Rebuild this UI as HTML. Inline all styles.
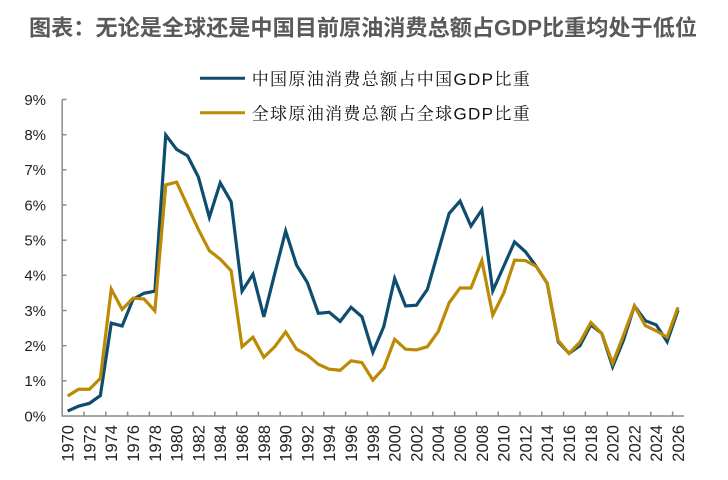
<!DOCTYPE html>
<html><head><meta charset="utf-8"><style>
html,body{margin:0;padding:0;background:#fff;}
svg{display:block;}
</style></head><body>
<svg width="728" height="480" viewBox="0 0 728 480" xmlns="http://www.w3.org/2000/svg">
<rect width="728" height="480" fill="#fff"/>
<text x="363" y="35.5" text-anchor="middle" font-family="Liberation Sans, 'Noto Sans CJK SC', sans-serif" font-size="22" font-weight="bold" fill="#595959" textLength="668" lengthAdjust="spacingAndGlyphs">图表：无论是全球还是中国目前原油消费总额占GDP比重均处于低位</text>

<!-- legend -->
<line x1="200" y1="78.2" x2="245" y2="78.2" stroke="#0E4D6F" stroke-width="3"/>
<line x1="200" y1="112.8" x2="245" y2="112.8" stroke="#BC8A05" stroke-width="3"/>
<text x="251.7" y="85.2" font-family="Liberation Sans, 'Noto Serif CJK SC', serif" font-size="17" fill="#111" textLength="278" lengthAdjust="spacing">中国原油消费总额占中国GDP比重</text>
<text x="251.7" y="119.7" font-family="Liberation Sans, 'Noto Serif CJK SC', serif" font-size="17" fill="#111" textLength="278" lengthAdjust="spacing">全球原油消费总额占全球GDP比重</text>

<!-- axes -->
<g stroke="#8a8a8a" stroke-width="1.5" fill="none">
<line x1="62.2" y1="99.5" x2="62.2" y2="416.5"/>
<line x1="61.5" y1="416" x2="684" y2="416"/>
<line x1="62.2" y1="99.5" x2="66.5" y2="99.5"/>
<line x1="62.2" y1="134.7" x2="66.5" y2="134.7"/>
<line x1="62.2" y1="169.8" x2="66.5" y2="169.8"/>
<line x1="62.2" y1="205.0" x2="66.5" y2="205.0"/>
<line x1="62.2" y1="240.2" x2="66.5" y2="240.2"/>
<line x1="62.2" y1="275.3" x2="66.5" y2="275.3"/>
<line x1="62.2" y1="310.5" x2="66.5" y2="310.5"/>
<line x1="62.2" y1="345.7" x2="66.5" y2="345.7"/>
<line x1="62.2" y1="380.8" x2="66.5" y2="380.8"/>
</g>
<g stroke="#8a8a8a" stroke-width="1.5">
<line x1="84.0" y1="411.5" x2="84.0" y2="416"/>
<line x1="105.8" y1="411.5" x2="105.8" y2="416"/>
<line x1="127.6" y1="411.5" x2="127.6" y2="416"/>
<line x1="149.4" y1="411.5" x2="149.4" y2="416"/>
<line x1="171.2" y1="411.5" x2="171.2" y2="416"/>
<line x1="193.0" y1="411.5" x2="193.0" y2="416"/>
<line x1="214.8" y1="411.5" x2="214.8" y2="416"/>
<line x1="236.6" y1="411.5" x2="236.6" y2="416"/>
<line x1="258.4" y1="411.5" x2="258.4" y2="416"/>
<line x1="280.2" y1="411.5" x2="280.2" y2="416"/>
<line x1="302.0" y1="411.5" x2="302.0" y2="416"/>
<line x1="323.8" y1="411.5" x2="323.8" y2="416"/>
<line x1="345.6" y1="411.5" x2="345.6" y2="416"/>
<line x1="367.4" y1="411.5" x2="367.4" y2="416"/>
<line x1="389.2" y1="411.5" x2="389.2" y2="416"/>
<line x1="411.0" y1="411.5" x2="411.0" y2="416"/>
<line x1="432.8" y1="411.5" x2="432.8" y2="416"/>
<line x1="454.6" y1="411.5" x2="454.6" y2="416"/>
<line x1="476.4" y1="411.5" x2="476.4" y2="416"/>
<line x1="498.2" y1="411.5" x2="498.2" y2="416"/>
<line x1="520.0" y1="411.5" x2="520.0" y2="416"/>
<line x1="541.8" y1="411.5" x2="541.8" y2="416"/>
<line x1="563.6" y1="411.5" x2="563.6" y2="416"/>
<line x1="585.4" y1="411.5" x2="585.4" y2="416"/>
<line x1="607.2" y1="411.5" x2="607.2" y2="416"/>
<line x1="629.0" y1="411.5" x2="629.0" y2="416"/>
<line x1="650.8" y1="411.5" x2="650.8" y2="416"/>
<line x1="672.6" y1="411.5" x2="672.6" y2="416"/>
</g>

<!-- y labels -->
<g font-family="Liberation Sans, sans-serif" font-size="15" fill="#222" text-anchor="end">
<text x="46" y="104.8">9%</text>
<text x="46" y="140.0">8%</text>
<text x="46" y="175.1">7%</text>
<text x="46" y="210.3">6%</text>
<text x="46" y="245.5">5%</text>
<text x="46" y="280.6">4%</text>
<text x="46" y="315.8">3%</text>
<text x="46" y="351.0">2%</text>
<text x="46" y="386.1">1%</text>
<text x="46" y="421.3">0%</text>
</g>

<!-- x labels -->
<g font-family="Liberation Sans, sans-serif" font-size="16.5" fill="#222" text-anchor="end">
<text transform="translate(73.6,425) rotate(-90)">1970</text>
<text transform="translate(95.4,425) rotate(-90)">1972</text>
<text transform="translate(117.2,425) rotate(-90)">1974</text>
<text transform="translate(139.0,425) rotate(-90)">1976</text>
<text transform="translate(160.8,425) rotate(-90)">1978</text>
<text transform="translate(182.6,425) rotate(-90)">1980</text>
<text transform="translate(204.4,425) rotate(-90)">1982</text>
<text transform="translate(226.2,425) rotate(-90)">1984</text>
<text transform="translate(248.0,425) rotate(-90)">1986</text>
<text transform="translate(269.8,425) rotate(-90)">1988</text>
<text transform="translate(291.6,425) rotate(-90)">1990</text>
<text transform="translate(313.4,425) rotate(-90)">1992</text>
<text transform="translate(335.2,425) rotate(-90)">1994</text>
<text transform="translate(357.0,425) rotate(-90)">1996</text>
<text transform="translate(378.8,425) rotate(-90)">1998</text>
<text transform="translate(400.6,425) rotate(-90)">2000</text>
<text transform="translate(422.4,425) rotate(-90)">2002</text>
<text transform="translate(444.2,425) rotate(-90)">2004</text>
<text transform="translate(466.0,425) rotate(-90)">2006</text>
<text transform="translate(487.8,425) rotate(-90)">2008</text>
<text transform="translate(509.6,425) rotate(-90)">2010</text>
<text transform="translate(531.4,425) rotate(-90)">2012</text>
<text transform="translate(553.2,425) rotate(-90)">2014</text>
<text transform="translate(575.0,425) rotate(-90)">2016</text>
<text transform="translate(596.8,425) rotate(-90)">2018</text>
<text transform="translate(618.6,425) rotate(-90)">2020</text>
<text transform="translate(640.4,425) rotate(-90)">2022</text>
<text transform="translate(662.2,425) rotate(-90)">2024</text>
<text transform="translate(684.0,425) rotate(-90)">2026</text>
</g>

<!-- series -->
<g transform="translate(67.65,416) scale(10.9,-35.17)" fill="none" stroke-linejoin="miter" stroke-miterlimit="4">
<polyline vector-effect="non-scaling-stroke" stroke="#0E4D6F" stroke-width="3.2" points="0,0.14 1,0.28 2,0.36 3,0.58 4,2.64 5,2.56 6,3.32 7,3.49 8,3.55 9,7.99 10,7.58 11,7.40 12,6.79 13,5.65 14,6.63 15,6.09 16,3.55 17,4.03 18,2.82 19,4.05 20,5.26 21,4.29 22,3.79 23,2.92 24,2.95 25,2.69 26,3.09 27,2.82 28,1.81 29,2.54 30,3.91 31,3.13 32,3.15 33,3.60 34,4.68 35,5.76 36,6.11 37,5.40 38,5.86 39,3.56 40,4.25 41,4.95 42,4.67 43,4.25 44,3.77 45,2.11 46,1.78 47,2.00 48,2.59 49,2.35 50,1.40 51,2.16 52,3.13 53,2.71 54,2.59 55,2.11 56,3.01"/>
<polyline vector-effect="non-scaling-stroke" stroke="#BC8A05" stroke-width="3.2" points="0,0.57 1,0.76 2,0.76 3,1.07 4,3.61 5,3.03 6,3.35 7,3.33 8,2.99 9,6.57 10,6.65 11,5.97 12,5.30 13,4.70 14,4.46 15,4.13 16,1.97 17,2.24 18,1.67 19,1.97 20,2.39 21,1.90 22,1.73 23,1.47 24,1.33 25,1.30 26,1.57 27,1.52 28,1.02 29,1.36 30,2.18 31,1.90 32,1.88 33,1.97 34,2.40 35,3.22 36,3.64 37,3.64 38,4.42 39,2.87 40,3.49 41,4.43 42,4.42 43,4.25 44,3.77 45,2.15 46,1.78 47,2.10 48,2.66 49,2.35 50,1.50 51,2.30 52,3.13 53,2.57 54,2.42 55,2.24 56,3.09"/>
</g>
</svg>
</body></html>
